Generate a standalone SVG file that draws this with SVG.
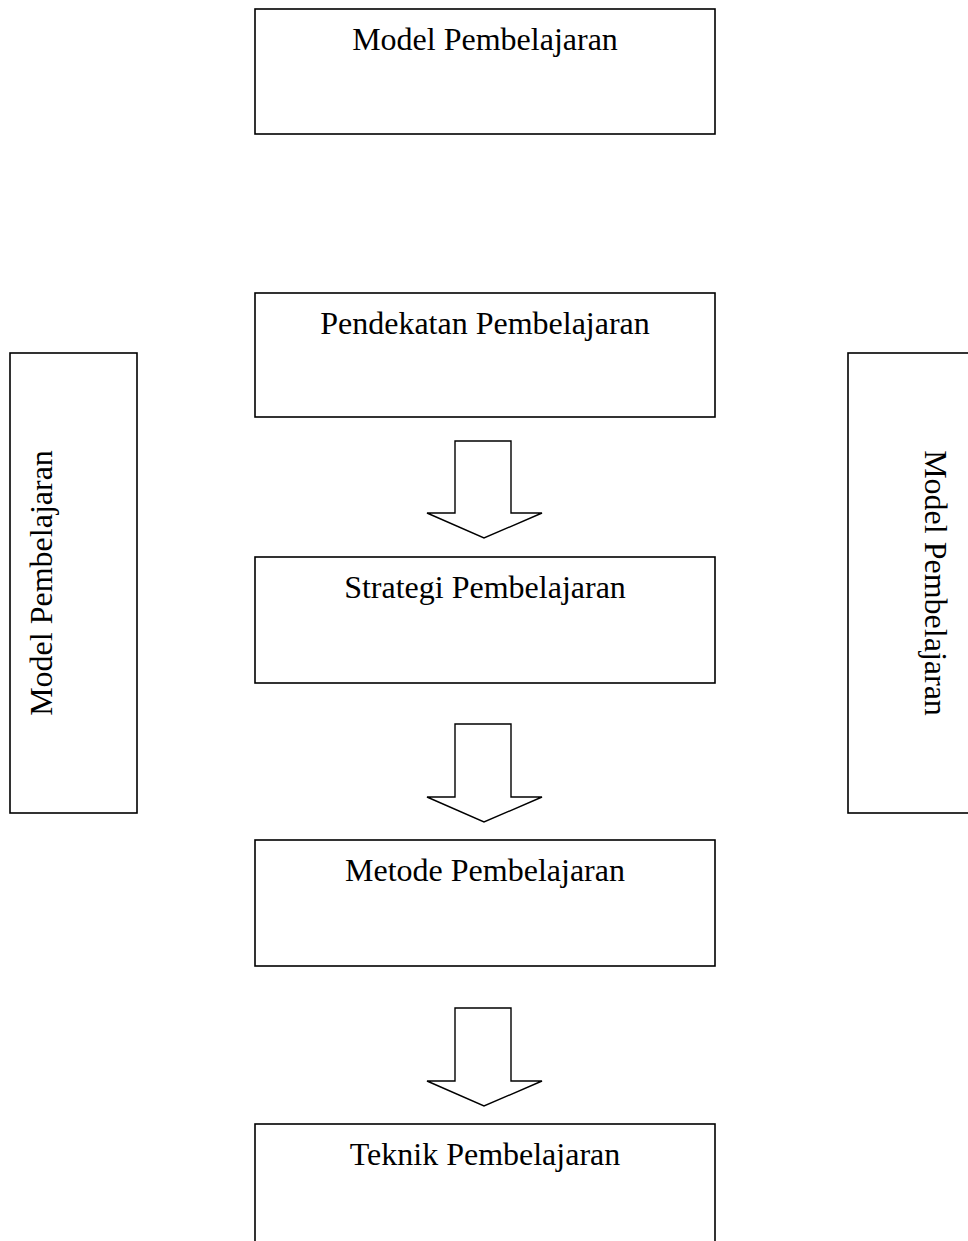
<svg xmlns="http://www.w3.org/2000/svg" width="968" height="1241" viewBox="0 0 968 1241">
<style>
.box{fill:#fff;stroke:#000;stroke-width:1.6}
.arr{fill:#fff;stroke:#000;stroke-width:1.4;stroke-linejoin:miter}
.t{font-family:"Liberation Serif","Times New Roman",serif;font-size:32px;fill:#000;text-anchor:middle}
</style>
<rect width="968" height="1241" fill="#fff"/>
<g id="node-top"><rect class="box" x="255" y="9" width="460" height="125"/><text class="t" x="485" y="50">Model Pembelajaran</text></g>
<g id="node-pendekatan"><rect class="box" x="255" y="293" width="460" height="124"/><text class="t" x="485" y="334">Pendekatan Pembelajaran</text></g>
<g id="node-strategi"><rect class="box" x="255" y="557" width="460" height="126"/><text class="t" x="485" y="598">Strategi Pembelajaran</text></g>
<g id="node-metode"><rect class="box" x="255" y="840" width="460" height="126"/><text class="t" x="485" y="881">Metode Pembelajaran</text></g>
<g id="node-teknik"><rect class="box" x="255" y="1124" width="460" height="130"/><text class="t" x="485" y="1165">Teknik Pembelajaran</text></g>
<g id="node-left"><rect class="box" x="10" y="353" width="127" height="460"/><text class="t" transform="translate(52,583) rotate(-90)">Model Pembelajaran</text></g>
<g id="node-right"><rect class="box" x="848" y="353" width="130" height="460"/><text class="t" transform="translate(925,583) rotate(90)">Model Pembelajaran</text></g>
<g id="connectors">
<polygon class="arr" points="455,441 511,441 511,513 542,513 484,538 427,513 455,513"/>
<polygon class="arr" points="455,724 511,724 511,797 542,797 484,822 427,797 455,797"/>
<polygon class="arr" points="455,1008 511,1008 511,1081 542,1081 484,1106 427,1081 455,1081"/>
</g>
</svg>
